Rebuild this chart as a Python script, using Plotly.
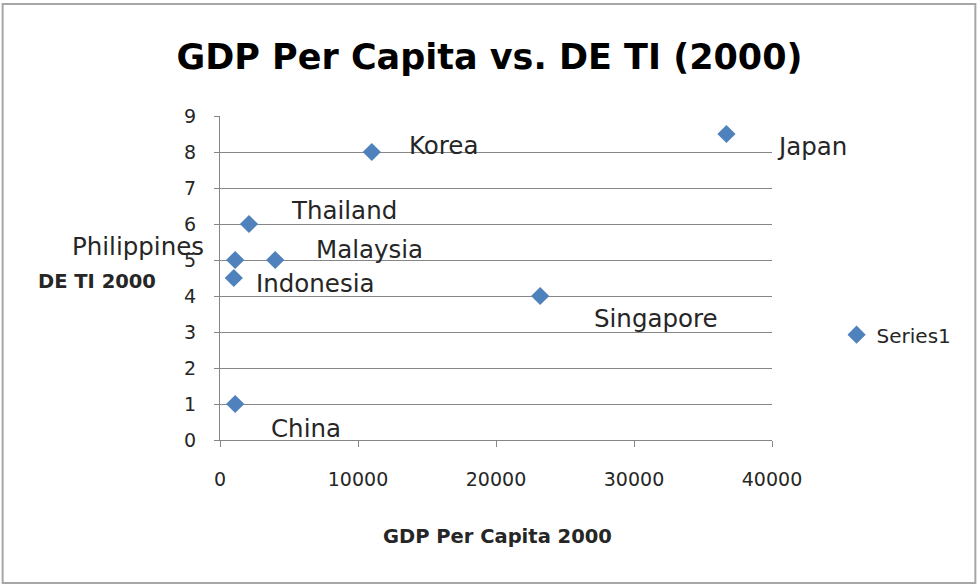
import plotly.graph_objects as go

# Dados
paises = ["Korea", "Japan", "Thailand", "Philippines", "Malaysia",
          "Indonesia", "Singapore", "China"]
pib_per_capita = [11000, 36700, 2100, 1100, 4000, 1000, 23200, 1100]
deti = [8, 8.5, 6, 5, 5, 4.5, 4, 1]

# deslocamento dos rótulos (px): xshift, yshift, âncora
desloc_rotulos = {
    "Korea": (35, 7, "left"),
    "Japan": (49, -12, "left"),
    "Thailand": (40, 14, "left"),
    "Philippines": (-29, 14, "right"),
    "Malaysia": (39, 11, "left"),
    "Indonesia": (20, -5, "left"),
    "Singapore": (52, -22, "left"),
    "China": (34, -24, "left"),
}

azul = "#4f81bd"
cinza = "#868686"
texto = "#262626"
fonte = "DejaVu Sans"

fig = go.Figure()
fig.add_trace(go.Scatter(
    x=pib_per_capita, y=deti,
    mode="markers",
    name="Series1",
    marker=dict(symbol="diamond", size=14, color=azul),
    cliponaxis=False,
))

for p, xv, yv in zip(paises, pib_per_capita, deti):
    dx, dy, anc = desloc_rotulos[p]
    fig.add_annotation(
        x=xv, y=yv, text=p, showarrow=False,
        xanchor=anc, yanchor="middle", xshift=dx, yshift=dy,
        font=dict(size=24.5, color=texto, family=fonte),
    )

# borda externa
fig.add_shape(
    type="rect", xref="paper", yref="paper",
    x0=-0.3938, x1=1.3684, y0=-0.4414, y1=1.3457,
    line=dict(color="#a6a6a6", width=2), fillcolor="rgba(0,0,0,0)",
)

fig.update_layout(
    width=979, height=586,
    margin=dict(l=220, r=207, t=116, b=146),
    paper_bgcolor="white", plot_bgcolor="white",
    font=dict(family=fonte, color=texto),
    title=dict(
        text="<b>GDP Per Capita vs. DE TI (2000)</b>",
        x=0.5, xanchor="center", y=0.903, yanchor="middle",
        font=dict(size=35, family=fonte, color="#000000"),
    ),
    xaxis=dict(
        range=[0, 40000], tickvals=[0, 10000, 20000, 30000, 40000],
        ticktext=["0", "10000", "20000", "30000", "40000"],
        showgrid=False, zeroline=False,
        showline=True, linecolor=cinza, linewidth=1,
        ticks="outside", ticklen=6, tickcolor=cinza,
        tickfont=dict(size=19, family=fonte, color=texto),
        ticklabelstandoff=16,
    ),
    yaxis=dict(
        range=[0, 9], dtick=1,
        showgrid=True, gridcolor=cinza, gridwidth=1, zeroline=False,
        showline=True, linecolor=cinza, linewidth=1,
        ticks="outside", ticklen=5, tickcolor=cinza,
        tickfont=dict(size=19, family=fonte, color=texto),
        ticklabelstandoff=14,
    ),
    showlegend=True,
    legend=dict(
        x=1.117, y=0.325, xanchor="left", yanchor="middle",
        font=dict(size=20, family=fonte, color=texto),
        bgcolor="rgba(0,0,0,0)",
    ),
)

# títulos dos eixos (o do Y fica na horizontal, como no original)
fig.add_annotation(
    text="<b>DE TI 2000</b>", xref="paper", yref="paper",
    x=-0.112, y=0.49, xanchor="right", yanchor="middle", showarrow=False,
    font=dict(size=19.5, family=fonte, color=texto),
)
fig.add_annotation(
    text="<b>GDP Per Capita 2000</b>", xref="paper", yref="paper",
    x=0.502, y=-0.297, xanchor="center", yanchor="middle", showarrow=False,
    font=dict(size=19.5, family=fonte, color=texto),
)

fig.write_html("out.html", config={"displayModeBar": False},
               post_script="document.body.style.margin='0';")
